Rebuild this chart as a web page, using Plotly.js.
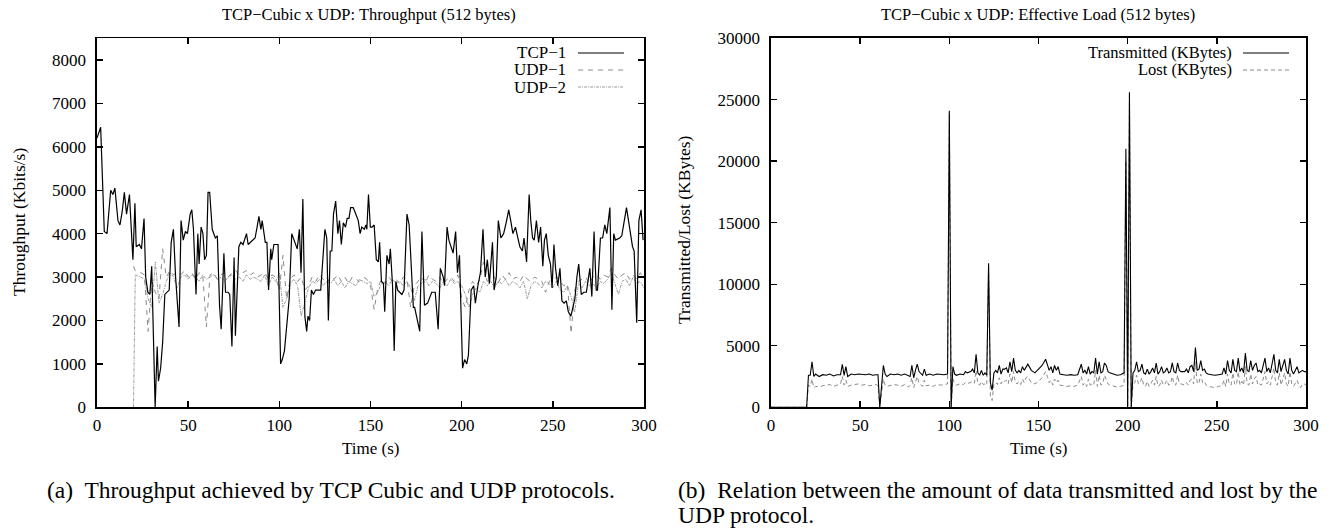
<!DOCTYPE html>
<html>
<head>
<meta charset="utf-8">
<script src="https://cdn.plot.ly/plotly-3.0.1.min.js"></script>
<style>html,body{margin:0;padding:0;background:#fff;}#chart{width:1338px;height:529px;}</style>
</head>
<body>
<div id="chart"></div>
<script>
// ---------- Left panel: throughput (Kbits/s) ----------
const tcpTime = [0,2,4,5.5,7.5,8.7,9.8,11.5,12.6,13.8,15,16.2,17.8,19.7,20.8,21.5,23.2,24.4,25.8,26.7,27.9,29,30,31.9,33,33.7,34.9,36,37.2,38.4,39.6,40.7,41.9,43.1,45,46.1,47.3,48.5,49.6,51.1,52,52.9,54.3,55.3,56,57.1,58.1,59,60,60.9,61.8,63.2,64.9,66,67.2,68.1,68.9,69.6,70.5,71.9,72.8,74,75.2,75.9,77.8,78.9,80.1,81,82,82.9,84.1,85.2,86.7,87.8,88.8,89.9,90.6,92.3,93.2,94.1,95.3,95.8,97,98.1,99.3,100.7,101.6,102.8,104,105.4,106.8,108.7,109.8,111,111.9,112.9,114,115,115.7,116.6,117.6,118.7,119.9,121.1,122.7,125,126,126.9,127.9,128.8,129.7,130.9,132.1,133,134,135.1,136.3,137.2,138.2,139.1,140.5,141.5,142.6,143.3,144.3,145.2,146.6,147.5,148,148.9,149.9,150.8,152,153.2,154.3,155,156,157.1,157.8,159,160.2,160.9,162.1,163,163.9,164.9,166,167.2,168.4,170,171.2,172.4,173.5,174.2,177,178.2,179.6,181.3,183.6,185.5,187.1,188.3,189.9,190.6,192,193,194.1,195.3,196.7,197.7,198.8,200.5,201.6,202.8,203.7,205.2,206.6,207.5,208.9,210.3,211.7,212.9,214.1,215.2,216.9,217.8,219,220.1,221.5,223,224.4,225.8,226.9,228.1,229.5,230.4,231.9,233.3,234.2,235.6,237,237.9,238.9,239.8,241,242.2,243.3,244.5,245.4,246.4,247.5,248.7,249.6,250.6,251.5,252.7,253.9,255,256.2,257.4,258.5,259.9,260.9,262.1,263.2,264.2,265.6,267,268.4,270.3,271.4,272.6,273.8,274.5,276.1,277.3,278.5,279.6,281.3,282.4,283.4,284.3,286.7,287.8,289.2,290.4,291.3,292.7,293.7,294.6,296,297.2,298.4,299.5];
const tcpThroughput = [6200,6450,4050,4000,5000,4900,5050,4300,4200,4500,4950,4450,4900,3400,4700,3700,3750,3650,4350,3000,2650,2600,3250,0,1400,600,900,1500,2600,2650,2700,3800,4100,3000,1850,4300,3850,4050,4000,4450,4550,4100,2600,4000,3300,4150,4000,3400,3500,4950,4950,4100,3900,3950,2350,1800,2650,3550,2650,2650,2600,1400,3450,1650,3700,3800,3750,3850,4000,3750,3800,3850,3900,4150,4400,4100,4300,3800,3800,2700,3650,3400,3750,3750,3750,1000,1100,1300,1800,2500,4000,3800,3650,4100,3100,4800,2100,1750,2100,2000,2700,2600,2700,2700,2700,4100,3900,2000,3600,3600,4450,4750,4000,4300,3750,4250,4150,4350,4350,4600,4600,4500,4400,4300,4000,4150,4100,4200,4100,4900,4150,4150,4200,3400,3350,3800,2900,2850,2200,3500,3300,3650,2800,1300,2900,2700,2650,2600,2700,4450,4200,3000,2300,2300,1750,4050,2350,2400,2650,2650,1800,3200,3000,2800,4150,3850,3700,3550,4050,3100,3500,900,1100,1000,1200,2700,2800,2400,2800,3100,4100,3000,3400,2850,3800,2700,3000,4300,3900,4000,4250,4550,4300,4000,4150,4000,3700,3600,3900,3350,4900,4300,3900,3850,4300,3800,4150,3250,3850,4000,3500,3300,2750,3750,3200,2800,3200,2450,2400,2450,2200,2100,2300,2500,3000,3300,2600,2650,2650,3200,2550,4050,2700,2700,3900,3900,4200,4000,4600,2250,4000,3850,3900,3950,4300,4600,4350,4000,3700,3600,1950,4300,4550,3850];

const udpTime = [20,21,24,26,28,30,32,34,36,38,
  40,42,44,46,48,50,52,54,56,58,
  60,62,64,66,68,70,72,74,76,78,
  80,82,84,86,88,90,92,94,96,98,
  100,102,104,106,108,110,112,114,116,118,
  120,122,124,126,128,130,132,134,136,138,
  140,142,144,146,148,150,152,154,156,158,
  160,162,164,166,168,170,172,174,176,178,
  180,182,184,186,188,190,192,194,196,198,
  200,202,204,206,208,210,212,214,216,218,
  220,222,224,226,228,230,232,234,236,238,
  240,242,244,246,248,250,252,254,256,258,
  260,262,264,266,268,270,272,274,276,278,
  280,282,284,286,288,290,292,294,296,298,
  300];
const udp1Throughput = [3250,3150,3100,3050,1750,2900,2650,2500,3650,3000,
  3150,3050,3100,3050,3150,3000,3100,2950,3100,3050,
  1850,3050,3100,2950,3050,3100,3000,3100,3150,3050,
  3100,3150,3050,3100,3000,3050,3100,2950,3050,3000,
  2700,3500,2500,2950,3050,2900,3000,2700,2800,3000,
  2900,3050,2950,2850,3000,2950,3050,2900,3000,2850,
  3000,2950,2900,3000,2950,2800,2250,2750,2950,2850,
  3000,2900,2950,2850,3000,2950,2300,2800,2900,3000,
  2850,3050,2950,2900,3000,2850,2950,3000,2900,3050,
  2500,2300,2700,2900,2800,2950,3350,2900,2950,3000,
  2850,3050,2950,3100,2950,3000,2900,3050,2950,2900,
  3000,2950,2900,2650,2900,2950,3000,2900,2800,2850,
  1700,2700,2900,2950,3000,2850,3000,3050,2950,3050,
  3000,3200,3050,2950,3050,3100,2950,3050,2950,3100,
  2950];
const udp2Throughput = [0,3050,3000,2950,2500,2300,3350,2400,2600,2900,
  3100,3000,2750,3000,3050,2950,3050,3000,2900,3050,
  2950,3000,3050,2950,3000,2900,3000,3050,2950,3000,
  2900,3050,2950,3000,2950,2900,3050,2800,3000,2900,
  3100,2300,2500,2850,2950,2800,2100,2400,2750,2900,
  2850,2950,2800,2900,2850,2950,2800,2900,2750,2900,
  2850,2800,2950,2900,2850,2900,2550,2650,2850,2900,
  2800,2950,2850,2900,2800,2900,2750,2450,2800,2850,
  2950,2800,2900,2850,2750,2900,2800,2950,2850,2900,
  2800,2600,2300,2600,2750,2650,2900,2800,2900,2750,
  2900,2850,2950,2800,2900,2850,2750,2900,2500,2800,
  2900,2850,2750,2900,2850,2750,2900,2700,2650,2800,
  2550,2200,2850,2750,2900,2800,2850,2750,2900,2850,
  2950,3100,2850,2600,2900,2950,2800,3000,2850,2900,
  2750];

// ---------- Right panel: effective load (KBytes) ----------
const loadTime = [0,20,21,22,23,24,25,27,29,31,
  33,35,37,39,40,41,42,43,45,47,
  49,51,53,55,57,59,60,61,63,64,
  65,67,69,71,73,75,77,78,79,80,
  81,82,83,84,85,86,87,89,91,93,
  95,97,99,100,101,102,103,104,106,108,
  109,110,112,113,114,115,116,117,118,119,
  120,121,122,123,124,125,126,127,128,129,
  130,131,132,133,134,135,136,137,138,139,
  140,141,142,143,144,146,148,150,152,154,
  155,156,157,158,159,160,161,162,164,166,
  168,170,172,174,175,176,177,178,179,180,
  181,182,183,184,185,186,187,188,189,190,
  192,194,196,198,199,200,201,202,203,204,
  205,206,207,208,209,210,211,212,213,214,
  215,216,217,218,219,220,221,222,223,224,
  225,226,227,228,229,230,232,233,234,235,
  236,237,238,239,240,241,242,243,244,245,
  247,249,251,253,254,255,256,257,258,259,
  260,261,262,263,264,265,266,267,268,269,
  270,271,272,273,274,275,276,277,278,279,
  280,281,282,283,284,285,286,287,288,289,
  290,291,292,293,294,295,296,297,298,299,
  300];
const transmitted = [0,0,2600,2600,3700,2500,2700,2500,2650,2600,
  2700,2550,2650,2650,3500,2600,3300,2500,2700,2650,
  2700,2650,2650,2700,2600,2650,2650,0,3400,2700,
  2500,2700,2650,2700,2600,2700,2550,2500,3400,2400,
  3000,3500,2900,2700,2600,3100,2600,2700,2600,2700,
  2650,2650,2700,24100,0,3300,2700,2600,2700,2650,
  2900,2800,2900,3100,2800,4300,2800,2600,3000,2600,
  2800,2600,11700,2000,1400,2800,3000,2800,3400,2700,
  3100,3100,3200,2800,3700,2900,4000,3000,2800,3000,
  2800,3300,3000,3300,3500,3000,2800,3100,3400,3900,
  3500,3000,3300,2800,3400,3000,3300,2700,2650,2600,
  2650,2600,2650,3500,2800,3000,2700,3300,2700,2900,
  2800,4000,2700,3700,2800,2900,3600,3400,2900,2800,
  2700,2600,2650,2800,21000,0,25600,0,2800,3000,
  3700,2900,3000,3500,2800,2700,3100,2700,2900,3200,
  2800,3600,2700,2900,3300,2800,2900,3200,2800,2900,
  3600,2900,2800,3600,3000,2900,2900,3100,2800,3300,
  3400,2900,4850,3000,3100,3800,3000,3100,2800,2700,
  2650,2600,2650,2700,3200,2700,3800,3000,2800,3900,
  3000,2900,4000,2900,3200,2800,4400,3000,2900,3800,
  3000,3400,3600,2900,3000,2800,3400,4000,2900,3200,
  2800,3500,4300,3000,2800,3900,2900,3400,3900,3000,
  2700,4000,3000,2700,3000,3300,2800,2900,3000,2900,
  2900];
const lost = [0,0,1800,1700,2300,1600,1700,1650,1750,1800,
  1850,1700,1800,1900,2500,1800,2200,1700,1800,1850,
  1900,1800,1850,1750,1800,1850,1750,0,2300,1800,
  1700,1800,1850,1800,1700,1850,1650,1800,2400,1600,
  2100,2500,2000,1800,1700,2200,1750,1800,1700,1850,
  1800,1850,1900,23900,0,2300,1900,1800,1900,1850,
  2000,1900,2050,2100,1950,3000,1900,1800,2100,1850,
  1900,1800,11500,900,550,1900,2000,1850,2400,1900,
  2200,2100,2200,1900,2700,2000,2900,2000,1900,2100,
  1850,2300,2000,2400,2500,2000,1900,2100,2400,2900,
  2500,2000,2200,1800,2300,2000,2200,1800,1750,1700,
  1750,1700,1800,2500,1800,2000,1700,2300,1800,1900,
  1800,3000,1700,2600,1800,1900,2600,2300,1900,1800,
  1700,1650,1700,1800,20000,0,25500,0,1900,2000,
  2600,1900,2000,2400,1800,1700,2100,1700,1900,2200,
  1800,2500,1700,1800,2200,1800,1900,2200,1800,1900,
  2500,1900,1800,2600,1900,1900,1800,2000,1800,2200,
  2300,1900,3700,1900,2000,2700,2000,2100,1800,1700,
  1650,1600,1700,1750,2200,1700,2700,1900,1800,2800,
  1900,1800,2900,1800,2100,1800,3300,1900,1800,2700,
  1900,2300,2500,1800,1900,1800,2300,2900,1900,2100,
  1800,2400,3200,2000,1800,2800,1800,2300,2800,1900,
  1700,2900,1900,1700,2000,2200,1800,1600,1900,1900,
  1800];

const timeTicks = [0,50,100,150,200,250,300];
const throughputTicks = [0,1000,2000,3000,4000,5000,6000,7000,8000];
const loadTicks = [0,5000,10000,15000,20000,25000,30000];

const W = 1338, H = 529;
const px = v => v / W;
const py = v => 1 - v / H;
const FONT = '"Liberation Serif", "Times New Roman", serif';

const traces = [
  {x: udpTime, y: udp2Throughput, xaxis: 'x', yaxis: 'y', mode: 'lines', name: 'UDP−2',
   line: {color: '#9a9a9a', width: 1, dash: '3px,1px,1px,1px'}},
  {x: udpTime, y: udp1Throughput, xaxis: 'x', yaxis: 'y', mode: 'lines', name: 'UDP−1',
   line: {color: '#8a8a8a', width: 1, dash: '5px,5px'}},
  {x: tcpTime, y: tcpThroughput, xaxis: 'x', yaxis: 'y', mode: 'lines', name: 'TCP−1',
   line: {color: '#000', width: 1.2}},
  {x: loadTime, y: lost, xaxis: 'x2', yaxis: 'y2', mode: 'lines', name: 'Lost (KBytes)',
   line: {color: '#8a8a8a', width: 1, dash: '4px,3px'}},
  {x: loadTime, y: transmitted, xaxis: 'x2', yaxis: 'y2', mode: 'lines', name: 'Transmitted (KBytes)',
   line: {color: '#000', width: 1.1}}
];

const axBase = {
  showgrid: false, zeroline: false, showline: true, linecolor: '#000', linewidth: 1.6,
  mirror: 'allticks', ticks: 'inside', ticklen: 6, tickwidth: 1.4, tickcolor: '#000',
  tickfont: {family: FONT, size: 17, color: '#000'}, fixedrange: true, tickformat: 'd'
};

const annotations = [
  {text: 'TCP−Cubic x UDP: Throughput (512 bytes)', x: px(369), y: py(14), font: {size: 16.5}},
  {text: 'TCP−Cubic x UDP: Effective Load (512 bytes)', x: px(1038), y: py(14), font: {size: 16.5}},
  {text: 'Time (s)', x: px(370), y: py(448), font: {size: 17}},
  {text: 'Time (s)', x: px(1038), y: py(448), font: {size: 17}},
  {text: 'Throughput (Kbits/s)', x: px(19), y: py(222), textangle: -90, font: {size: 17.5}},
  {text: 'Transmitted/Lost (KBytes)', x: px(684), y: py(230), textangle: -90, font: {size: 17.5}},
  {text: 'TCP−1', x: px(568), y: py(53), xanchor: 'right', font: {size: 17}},
  {text: 'UDP−1', x: px(568), y: py(70), xanchor: 'right', font: {size: 17}},
  {text: 'UDP−2', x: px(568), y: py(87), xanchor: 'right', font: {size: 17}},
  {text: 'Transmitted (KBytes)', x: px(1234), y: py(53), xanchor: 'right', font: {size: 16.5}},
  {text: 'Lost (KBytes)', x: px(1234), y: py(70), xanchor: 'right', font: {size: 16.5}},
  {text: '(a)  Throughput achieved by TCP Cubic and UDP protocols.', x: px(45), y: py(490), xanchor: 'left', font: {size: 23.5}},
  {text: '(b)  Relation between the amount of data transmitted and lost by the', x: px(676), y: py(490), xanchor: 'left', font: {size: 23.5}},
  {text: 'UDP protocol.', x: px(676), y: py(515), xanchor: 'left', font: {size: 23.5}}
].map(a => Object.assign({xref: 'paper', yref: 'paper', showarrow: false, xanchor: 'center', yanchor: 'middle'}, a,
  {font: Object.assign({family: FONT, color: '#000'}, a.font)}));

const legendLine = (x0, x1, y, color, dash, width) => ({
  type: 'line', xref: 'paper', yref: 'paper', x0: px(x0), x1: px(x1), y0: py(y), y1: py(y),
  line: {color: color, dash: dash, width: width}
});
const shapes = [
  legendLine(578, 624, 53, '#000', 'solid', 1.2),
  legendLine(578, 624, 70, '#8a8a8a', '5px,5px', 1),
  legendLine(578, 624, 87, '#9a9a9a', '3px,1px,1px,1px', 1),
  legendLine(1243, 1289, 53, '#000', 'solid', 1.1),
  legendLine(1243, 1289, 70, '#8a8a8a', '4px,3px', 1)
];

const layout = {
  width: W, height: H, margin: {l: 0, r: 0, t: 0, b: 0, pad: 0},
  paper_bgcolor: '#fff', plot_bgcolor: '#fff', showlegend: false, hovermode: false,
  font: {family: FONT, color: '#000'},
  xaxis: Object.assign({}, axBase, {domain: [px(97), px(644)], range: [0, 300], tickvals: timeTicks, anchor: 'y', ticklabelstandoff: 2}),
  yaxis: Object.assign({}, axBase, {domain: [py(407.3), py(38.3)], range: [0, 8500], tickvals: throughputTicks, anchor: 'x', ticklabelstandoff: 6}),
  xaxis2: Object.assign({}, axBase, {domain: [px(771), px(1306)], range: [0, 300], tickvals: timeTicks, anchor: 'y2', ticklabelstandoff: 2}),
  yaxis2: Object.assign({}, axBase, {domain: [py(407.3), py(38)], range: [0, 30000], tickvals: loadTicks, anchor: 'x2', ticklabelstandoff: 6}),
  annotations: annotations,
  shapes: shapes
};

Plotly.newPlot('chart', traces, layout, {staticPlot: true, displayModeBar: false});
</script>
</body>
</html>
